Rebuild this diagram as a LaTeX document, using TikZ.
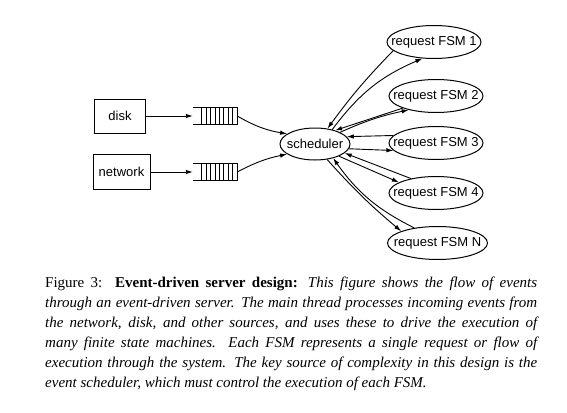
\documentclass[tikz,border=0pt]{standalone}
\usepackage{fontspec}
\setmainfont{Liberation Serif}
\setsansfont{Liberation Sans}
\usetikzlibrary{shapes.geometric,arrows.meta}
\begin{document}
\begin{tikzpicture}[x=1pt,y=-1pt,
  lbl/.style={font=\sffamily\fontsize{13}{15}\selectfont},
  srcbox/.style={draw,line width=1pt,rectangle,inner sep=0,lbl},
  fsm/.style={draw,line width=1pt,ellipse,inner sep=0,minimum width=94,minimum height=33,lbl},
  conn/.style={line width=0.9pt,-{Latex[length=7pt,width=4.5pt]}},
  qbox/.style={rectangle,inner sep=0,minimum width=44,minimum height=17},
  qline/.style={line width=0.9pt},
  capline/.style={anchor=base west,inner sep=0,font=\fontsize{15}{20}\selectfont}
]
\useasboundingbox[fill=white] (0,0) rectangle (567,412);

% sources
\node[srcbox,minimum width=51,minimum height=34] (disk) at (120,116) {disk};
\node[srcbox,minimum width=57,minimum height=35] (net) at (121.5,172) {network};

% queues
\node[qbox] (q1) at (215,116) {};
\node[qbox] (q2) at (215,172) {};
\foreach \q in {q1,q2}{
  \draw[qline] (\q.north west) -- (\q.north east) -- (\q.south east) -- (\q.south west);
  \foreach \i in {0,...,7}
    \draw[line width=0.7pt] ([xshift={9+\i*4.375}]\q.north west) -- ([xshift={9+\i*4.375}]\q.south west);
}

% scheduler
\node[draw,line width=1pt,ellipse,inner sep=0,minimum width=70,minimum height=32,lbl] (sch) at (315,144) {\makebox[0pt]{scheduler}};

% FSMs
\node[fsm] (f1) at (434,42) {\makebox[0pt]{request FSM 1}};
\node[fsm] (f2) at (436,96) {\makebox[0pt]{request FSM 2}};
\node[fsm] (f3) at (436,143) {\makebox[0pt]{request FSM 3}};
\node[fsm] (f4) at (436,193) {\makebox[0pt]{request FSM 4}};
\node[fsm,minimum width=100] (fN) at (437.5,243) {\makebox[0pt]{request FSM N}};

% connectors
\draw[conn] (disk.east) -- (q1.west);
\draw[conn] (net.east) -- (q2.west);
\draw[conn] (q1.east) to[bend right=10] (sch.160);
\draw[conn] (q2.east) to[bend left=8] (sch.200);

\draw[conn] (f1.192) to[bend right=4] (sch.51);
\draw[conn] (sch.40) to[bend left=15] (f1.235);
\draw[conn] (f2.200) -- (sch.34);
\draw[conn] (sch.25) to[bend left=6] (f2.207);
\draw[conn] (f3.170) -- (sch.13);
\draw[conn] (sch.-8) -- (f3.190);
\draw[conn] (f4.150) -- (sch.-17);
\draw[conn] (sch.-27) -- (f4.164);
\draw[conn] (sch.-52) to[bend right=4] (fN.162);
\draw[conn] (fN.147) to[bend left=14] (sch.-38);

% caption
\node[capline] (c1) at (45,287) {\makebox[492pt][s]{Figure 3:\ \ \textbf{Event-driven server design:} \textit{This figure shows the flow of events}}};
\node[capline] (c2) at (45,307) {\makebox[492pt][s]{\itshape through an event-driven server. The main thread processes incoming events from}};
\node[capline] (c3) at (45,327) {\makebox[492pt][s]{\itshape the network, disk, and other sources, and uses these to drive the execution of}};
\node[capline] (c4) at (45,347) {\makebox[492pt][s]{\itshape many finite state machines.\ \ Each FSM represents a single request or flow of}};
\node[capline] (c5) at (45,367) {\makebox[492pt][s]{\itshape execution through the system. The key source of complexity in this design is the}};
\node[capline] (c6) at (45,387) {\itshape event scheduler, which must control the execution of each FSM.};
\end{tikzpicture}
\end{document}
